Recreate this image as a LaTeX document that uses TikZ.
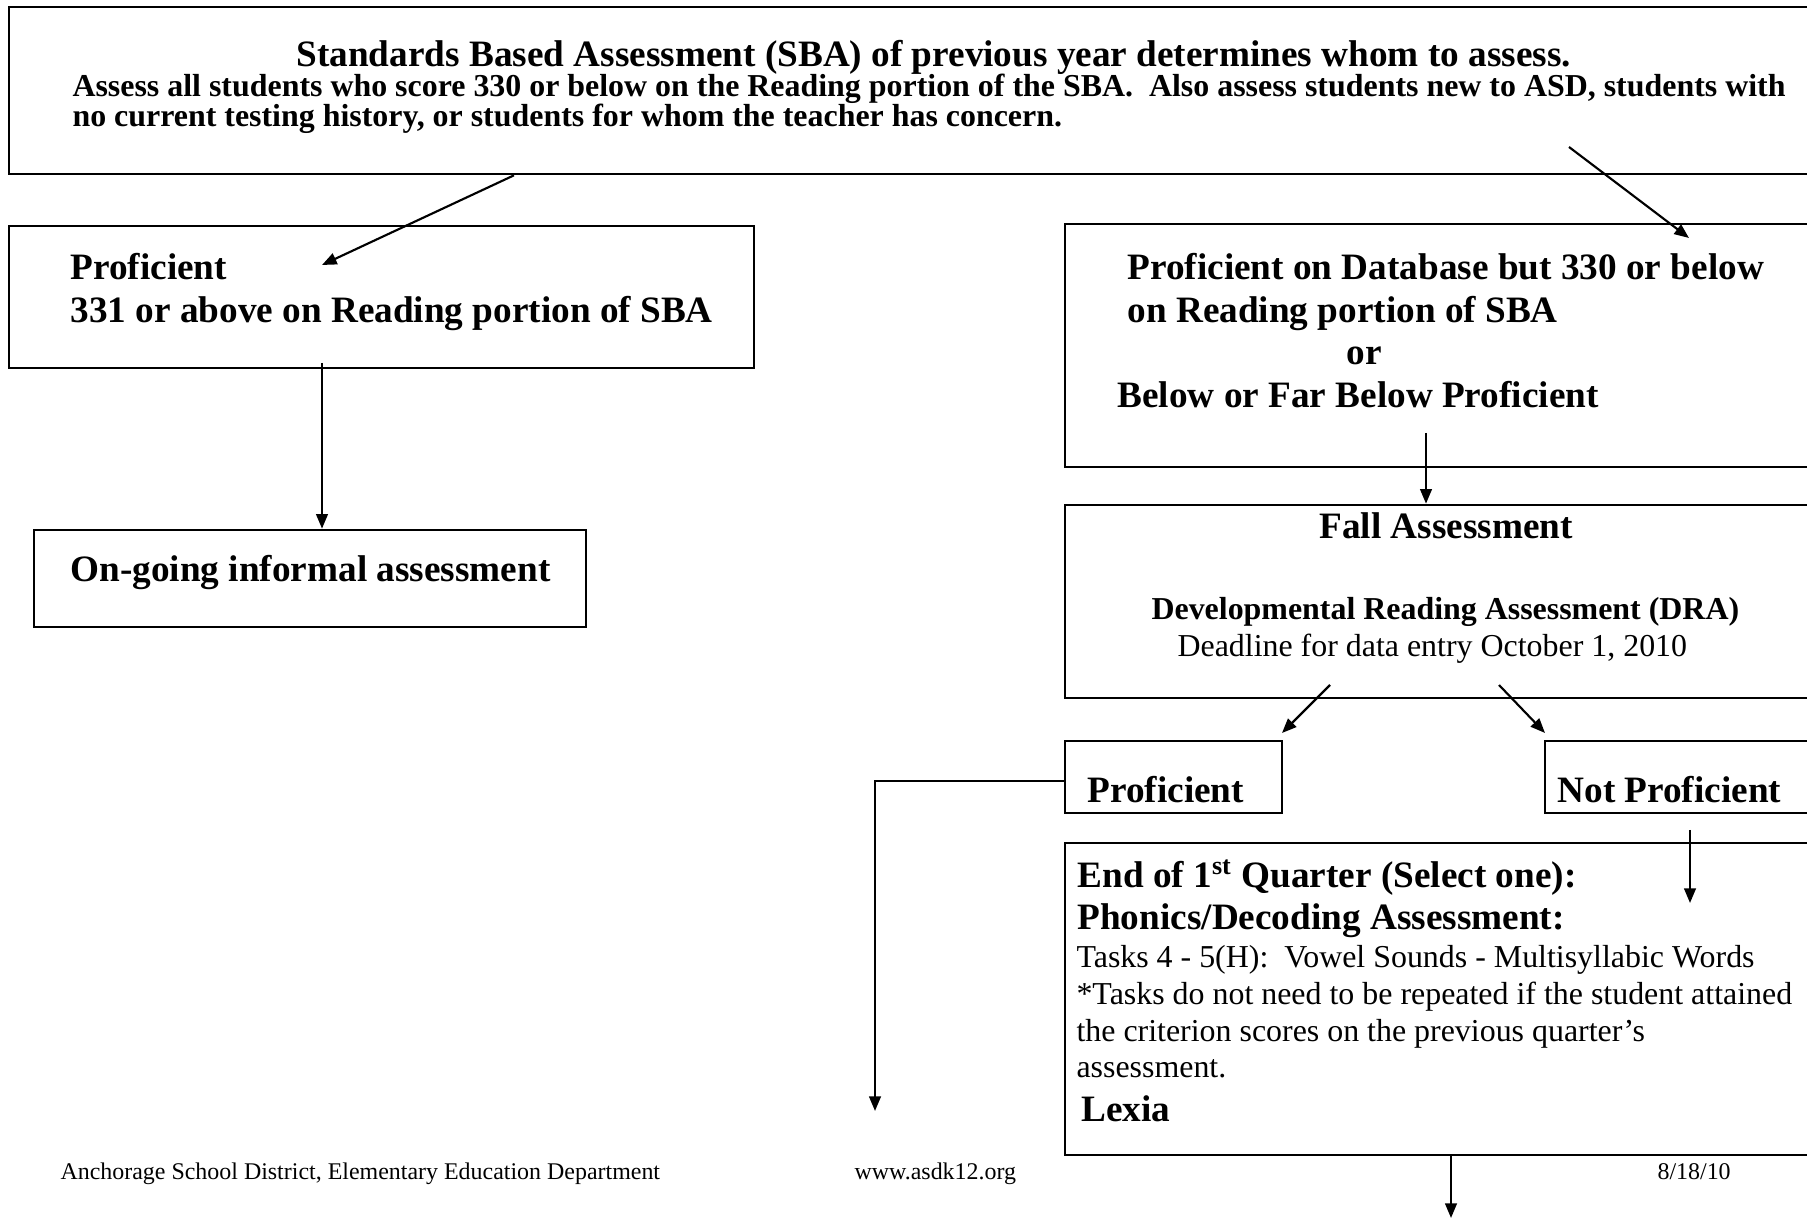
\documentclass[tikz,border=0pt]{standalone}
\usepackage{fontspec}
\setmainfont{Liberation Serif}
\usetikzlibrary{arrows.meta,fit,calc}
\begin{document}
\begin{tikzpicture}[x=0.376pt,y=-0.376pt,
  box/.style={draw, line width=1pt, inner sep=0pt, rectangle},
  arr/.style={line width=0.8pt, -{Triangle[length=5.5pt,width=4.4pt]}},
  tb14/.style={anchor=base west, inner sep=0pt, font=\bfseries\fontsize{14}{16}\selectfont},
  tb12/.style={anchor=base west, inner sep=0pt, font=\bfseries\fontsize{12}{14}\selectfont},
  tr12/.style={anchor=base west, inner sep=0pt, font=\fontsize{12}{14}\selectfont},
  tr9/.style={anchor=base west, inner sep=0pt, font=\fontsize{9}{11}\selectfont}]
\useasboundingbox (0,0) rectangle (1807,1220);
\clip (0,0) rectangle (1807,1220);

% boxes
\node[box, fit={(9,7) (1815,174)}] (top) {};
\node[box, fit={(9,226) (754,368)}] (lprof) {};
\node[box, fit={(34,530) (586,627)}] (ongoing) {};
\node[box, fit={(1065,224) (1815,467)}] (rbox) {};
\node[box, fit={(1065,505) (1815,698)}] (fall) {};
\node[box, fit={(1065,741) (1282,813)}] (prof2) {};
\node[box, fit={(1545,741) (1815,813)}] (notprof) {};
\node[box, fit={(1065,843) (1815,1155)}] (endq) {};

% texts
\node[tb14] (title) at (296,67) {Standards Based Assessment (SBA) of previous year determines whom to assess.};
\node[tb12] (l2) at (72,97) {Assess all students who score 330 or below on the Reading portion of the SBA.\ \ Also assess students new to ASD, students with};
\node[tb12] (l3) at (72,127) {no current testing history, or students for whom the teacher has concern.};

\node[tb14] (lp1) at (70,280) {Proficient};
\node[tb14] (lp2) at (70,323) {331 or above on Reading portion of SBA};
\node[tb14] (og) at (70,582) {On-going informal assessment};

\node[tb14] (r1) at (1127,280) {Proficient on Database but 330 or below};
\node[tb14] (r2) at (1127,323) {on Reading portion of SBA};
\node[tb14] (r3) at (1346,365) {or};
\node[tb14] (r4) at (1117,408) {Below or Far Below Proficient};

\node[tb14] (f1) at (1319,539) {Fall Assessment};
\node[tb12] (f2) at (1151,620) {Developmental Reading Assessment (DRA)};
\node[tr12] (f3) at (1177,657) {Deadline for data entry October 1, 2010};

\node[tb14] (p2t) at (1087,803) {Proficient};
\node[tb14] (npt) at (1557,803) {Not Proficient};

\node[tb14] (e1) at (1077,888) {End of 1\textsuperscript{st} Quarter (Select one):};
\node[tb14] (e2) at (1077,930) {Phonics/Decoding Assessment:};
\node[tr12] (e3) at (1076,968) {Tasks 4 - 5(H):\ \ Vowel Sounds - Multisyllabic Words};
\node[tr12] (e4) at (1076,1005) {*Tasks do not need to be repeated if the student attained};
\node[tr12] (e5) at (1076,1042) {the criterion scores on the previous quarter’s};
\node[tr12] (e6) at (1076,1078) {assessment.};
\node[tb14] (e7) at (1081,1122) {Lexia};

\node[tr9] (foot1) at (60,1180) {Anchorage School District, Elementary Education Department};
\node[tr9] (foot2) at (854,1180) {www.asdk12.org};
\node[tr9] (foot3) at (1657,1180) {8/18/10};

% connector end points
\coordinate (a1e) at (322,265);
\coordinate (a2s) at (322,363);
\coordinate (a3s) at (1569,147);
\coordinate (a3e) at (1689,238);
\coordinate (a4s) at (1426,433);
\coordinate (a5s) at (1330,685);
\coordinate (a5e) at (1282,733);
\coordinate (a6s) at (1499,685);
\coordinate (a6e) at (1545,733);
\coordinate (a7e) at (875,1111);
\coordinate (a8s) at (1690,830);
\coordinate (a8e) at (1690,903);
\coordinate (a9e) at (1451,1218);

% connectors
\draw[arr] (514,0 |- top.south) -- (a1e);
\draw[arr] (a2s) -- (a2s |- ongoing.north);
\draw[arr] (a3s) -- (a3e);
\draw[arr] (a4s) -- (a4s |- fall.north);
\draw[arr] (a5s) -- (a5e);
\draw[arr] (a6s) -- (a6e);
\draw[arr] ($(prof2.west)+(0,4)$) -| (a7e);
\draw[arr] (a8s) -- (a8e);
\draw[arr] (a9e |- endq.south) -- (a9e);
\end{tikzpicture}
\end{document}
